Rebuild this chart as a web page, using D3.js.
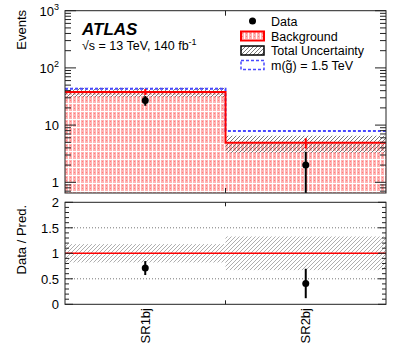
<!DOCTYPE html>
<html>
<head>
<meta charset="utf-8">
<script src="https://cdn.jsdelivr.net/npm/d3@7"></script>
<style>
  body { margin: 0; background: #fff; }
  text { font-family: "Liberation Sans", Arial, sans-serif; fill: #000; }
</style>
</head>
<body>
<svg id="chart"></svg>
<script>
// chart values
const regions = ["SR1bj", "SR2bj"];
const observed = [27, 2];
const background = [38, 4.9];
const bkgStatErr = [4.5, 1.0];
const totalUncRel = [0.18, 0.33];
const signalTotal = [43, 7.9];
const logTicks = [1, 10, 100, 1000];
const logTickLabels = [["1", ""], ["10", ""], ["10", "2"], ["10", "3"]];
const ratioTicks = [0, 0.5, 1, 1.5, 2];
const ratioTickLabels = ["0", "0.5", "1", "1.5", "2"];

const w = 407;
const h = 356;
const left = 65, right = 386;
const topTop = 10.7, topBottom = 193;
const ratTop = 202.3, ratBottom = 304.3;

const svg = d3.select("#chart").attr("width", w).attr("height", h);
const defs = svg.append("defs");

// background fill pattern (pink dotted columns)
const pat = defs.append("pattern").attr("id", "bkgFill")
    .attr("patternUnits", "userSpaceOnUse").attr("width", 4).attr("height", 8)
    .attr("x", left);
pat.append("rect").attr("width", 4).attr("height", 8).attr("fill", "#fff");
pat.append("rect").attr("width", 3).attr("height", 7).attr("fill", "#ffb3b3");
pat.append("rect").attr("x", 1).attr("y", 1).attr("width", 1).attr("height", 1).attr("fill", "#ff7b7b");
pat.append("rect").attr("x", 1).attr("y", 4).attr("width", 1).attr("height", 1).attr("fill", "#ff7b7b");

// hatch pattern
const hatch = defs.append("pattern").attr("id", "hatch")
    .attr("patternUnits", "userSpaceOnUse").attr("width", 4).attr("height", 4);
hatch.append("path").attr("d", "M-1,1 l2,-2 M0,4 l4,-4 M3,5 l2,-2")
    .attr("stroke", "#555").attr("stroke-width", 0.8);

const xScale = d3.scaleBand().domain(regions).range([left, right]).paddingInner(0).paddingOuter(0);
const bw = xScale.bandwidth();
const xc = d => xScale(d) + bw / 2;

const yScale = d3.scaleLog().domain([0.65, 1000]).range([topBottom, topTop]);
const rScale = d3.scaleLinear().domain([0, 2]).range([ratBottom, ratTop]);

// ---------- upper panel ----------
const up = svg.append("g");

up.selectAll("rect.bkg")
    .data(regions)
    .enter()
    .append("rect")
    .attr("x", d => xScale(d))
    .attr("width", bw)
    .attr("y", (d, i) => yScale(background[i]))
    .attr("height", (d, i) => topBottom - yScale(background[i]))
    .attr("fill", "url(#bkgFill)");

up.selectAll("rect.unc")
    .data(regions)
    .enter()
    .append("rect")
    .attr("x", d => xScale(d))
    .attr("width", bw)
    .attr("y", (d, i) => yScale(background[i] * (1 + totalUncRel[i])))
    .attr("height", (d, i) => yScale(background[i] * (1 - totalUncRel[i])) - yScale(background[i] * (1 + totalUncRel[i])))
    .attr("fill", "url(#hatch)");

function stepPoints(vals) {
    const pts = [];
    regions.forEach((r, i) => {
        pts.push([xScale(r), yScale(vals[i])]);
        pts.push([xScale(r) + bw, yScale(vals[i])]);
    });
    return pts;
}
const line = d3.line();

up.append("path")
    .attr("d", line(stepPoints(signalTotal)))
    .attr("fill", "none")
    .attr("stroke", "#4a4aff")
    .attr("stroke-width", 2)
    .attr("stroke-dasharray", "3,2");

up.append("path")
    .attr("d", line(stepPoints(background)))
    .attr("fill", "none")
    .attr("stroke", "#ff0000")
    .attr("stroke-width", 2);

up.selectAll("line.bkgerr")
    .data(regions)
    .enter()
    .append("line")
    .attr("x1", d => xc(d)).attr("x2", d => xc(d))
    .attr("y1", (d, i) => yScale(background[i] + bkgStatErr[i]))
    .attr("y2", (d, i) => yScale(background[i] - bkgStatErr[i]))
    .attr("stroke", "#ff0000")
    .attr("stroke-width", 2);

up.selectAll("line.derr")
    .data(regions)
    .enter()
    .append("line")
    .attr("x1", d => xc(d)).attr("x2", d => xc(d))
    .attr("y1", (d, i) => yScale(observed[i] + Math.sqrt(observed[i])))
    .attr("y2", (d, i) => Math.min(topBottom, yScale(Math.max(0.01, observed[i] - Math.sqrt(observed[i])))))
    .attr("stroke", "#000")
    .attr("stroke-width", 2);

up.selectAll("circle.data")
    .data(regions)
    .enter()
    .append("circle")
    .attr("cx", d => xc(d))
    .attr("cy", (d, i) => yScale(observed[i]))
    .attr("r", 3.5)
    .attr("fill", "#000");

// frame + ticks upper
up.append("rect")
    .attr("x", left).attr("y", topTop)
    .attr("width", right - left).attr("height", topBottom - topTop)
    .attr("fill", "none").attr("stroke", "#222").attr("stroke-width", 1);

const minorLog = [];
for (let dec = 0.1; dec < 1000; dec *= 10) {
    for (let k = 2; k <= 9; k++) {
        const v = k * dec;
        if (v > 0.65 && v < 1000) minorLog.push(v);
    }
}
[left, right].forEach((xa, side) => {
    const dir = side === 0 ? 1 : -1;
    up.selectAll(null).data(logTicks).enter().append("line")
        .attr("x1", xa).attr("x2", xa + dir * 11)
        .attr("y1", d => yScale(d)).attr("y2", d => yScale(d))
        .attr("stroke", "#222");
    up.selectAll(null).data(minorLog).enter().append("line")
        .attr("x1", xa).attr("x2", xa + dir * 6)
        .attr("y1", d => yScale(d)).attr("y2", d => yScale(d))
        .attr("stroke", "#222");
});
// bin boundary ticks
const boundary = xScale(regions[1]);
up.append("line").attr("x1", boundary).attr("x2", boundary).attr("y1", topTop).attr("y2", topTop + 5).attr("stroke", "#222");
up.append("line").attr("x1", boundary).attr("x2", boundary).attr("y1", topBottom).attr("y2", topBottom - 5).attr("stroke", "#222");

const ylab = up.selectAll("text.ylab").data(logTicks).enter().append("text")
    .attr("x", 59)
    .attr("y", d => yScale(d) + 5)
    .attr("text-anchor", "end")
    .attr("font-size", 13);
ylab.append("tspan").text((d, i) => logTickLabels[i][0]);
ylab.append("tspan").attr("font-size", 9).attr("dy", -6).text((d, i) => logTickLabels[i][1]);

svg.append("text")
    .attr("transform", "translate(26,10) rotate(-90)")
    .attr("text-anchor", "end")
    .attr("font-size", 13)
    .text("Events");

// ATLAS label
svg.append("text").attr("x", 82).attr("y", 35)
    .attr("font-size", 17).attr("font-weight", "bold").attr("font-style", "italic")
    .text("ATLAS");
const lumi = svg.append("text").attr("x", 82).attr("y", 49.5).attr("font-size", 12.5);
lumi.append("tspan").text("\u221As = 13 TeV, 140 fb");
lumi.append("tspan").attr("font-size", 9).attr("dy", -5).text("-1");

// legend
const lx = 241, ltx = 271;
const lrow = [21, 36, 50.5, 65];
const lg = svg.append("g");
lg.append("circle").attr("cx", 252.5).attr("cy", lrow[0]).attr("r", 3.5).attr("fill", "#000");
lg.append("rect").attr("x", lx).attr("y", lrow[1] - 4.5).attr("width", 23).attr("height", 9)
    .attr("fill", "url(#bkgFill)").attr("stroke", "#ff0000").attr("stroke-width", 2);
lg.append("rect").attr("x", lx).attr("y", lrow[2] - 4.5).attr("width", 23).attr("height", 9)
    .attr("fill", "url(#hatch)").attr("stroke", "#000").attr("stroke-width", 1.5);
lg.append("rect").attr("x", lx).attr("y", lrow[3] - 4.5).attr("width", 23).attr("height", 9)
    .attr("fill", "#fff").attr("stroke", "#4a4aff").attr("stroke-width", 1.5).attr("stroke-dasharray", "3,2");
const legendText = ["Data", "Background", "Total Uncertainty", "m(g\u0303) = 1.5 TeV"];
lg.selectAll("text").data(legendText).enter().append("text")
    .attr("x", ltx).attr("y", (d, i) => lrow[i] + 4.5)
    .attr("font-size", 12.5)
    .text(d => d);

// ---------- ratio panel ----------
const rp = svg.append("g");

rp.selectAll("line.grid").data([0.5, 1.5]).enter().append("line")
    .attr("x1", left).attr("x2", right)
    .attr("y1", d => rScale(d)).attr("y2", d => rScale(d))
    .attr("stroke", "#777").attr("stroke-dasharray", "1,2");

rp.selectAll("rect.runc")
    .data(regions)
    .enter()
    .append("rect")
    .attr("x", d => xScale(d))
    .attr("width", bw)
    .attr("y", (d, i) => rScale(1 + totalUncRel[i]))
    .attr("height", (d, i) => rScale(1 - totalUncRel[i]) - rScale(1 + totalUncRel[i]))
    .attr("fill", "url(#hatch)")
    .attr("opacity", 0.6);

rp.append("line")
    .attr("x1", left).attr("x2", right)
    .attr("y1", rScale(1)).attr("y2", rScale(1))
    .attr("stroke", "#ff0000").attr("stroke-width", 1.5);

rp.selectAll("line.rerr")
    .data(regions)
    .enter()
    .append("line")
    .attr("x1", d => xc(d)).attr("x2", d => xc(d))
    .attr("y1", (d, i) => rScale((observed[i] + Math.sqrt(observed[i])) / background[i]))
    .attr("y2", (d, i) => rScale((observed[i] - Math.sqrt(observed[i])) / background[i]))
    .attr("stroke", "#000")
    .attr("stroke-width", 2);

rp.selectAll("circle.rdata")
    .data(regions)
    .enter()
    .append("circle")
    .attr("cx", d => xc(d))
    .attr("cy", (d, i) => rScale(observed[i] / background[i]))
    .attr("r", 3.5)
    .attr("fill", "#000");

rp.append("rect")
    .attr("x", left).attr("y", ratTop)
    .attr("width", right - left).attr("height", ratBottom - ratTop)
    .attr("fill", "none").attr("stroke", "#222").attr("stroke-width", 1);

const minorRatio = d3.range(0, 2.01, 0.1).map(v => +v.toFixed(1));
[left, right].forEach((xa, side) => {
    const dir = side === 0 ? 1 : -1;
    rp.selectAll(null).data(minorRatio).enter().append("line")
        .attr("x1", xa).attr("x2", d => xa + dir * (ratioTicks.includes(d) ? 8 : 4))
        .attr("y1", d => rScale(d)).attr("y2", d => rScale(d))
        .attr("stroke", "#222");
});
rp.append("line").attr("x1", boundary).attr("x2", boundary).attr("y1", ratTop).attr("y2", ratTop + 4).attr("stroke", "#222");
rp.append("line").attr("x1", boundary).attr("x2", boundary).attr("y1", ratBottom).attr("y2", ratBottom - 4).attr("stroke", "#222");

rp.selectAll("text.rlab").data(ratioTicks).enter().append("text")
    .attr("x", 59)
    .attr("y", d => rScale(d) + 5)
    .attr("text-anchor", "end")
    .attr("font-size", 13)
    .text((d, i) => ratioTickLabels[i]);

svg.append("text")
    .attr("transform", "translate(26,205) rotate(-90)")
    .attr("text-anchor", "end")
    .attr("font-size", 13)
    .text("Data / Pred.");

svg.selectAll("text.xlab").data(regions).enter().append("text")
    .attr("transform", d => `translate(${xc(d) + 4.5},308) rotate(-90)`)
    .attr("text-anchor", "end")
    .attr("font-size", 13)
    .text(d => d);
</script>
</body>
</html>
